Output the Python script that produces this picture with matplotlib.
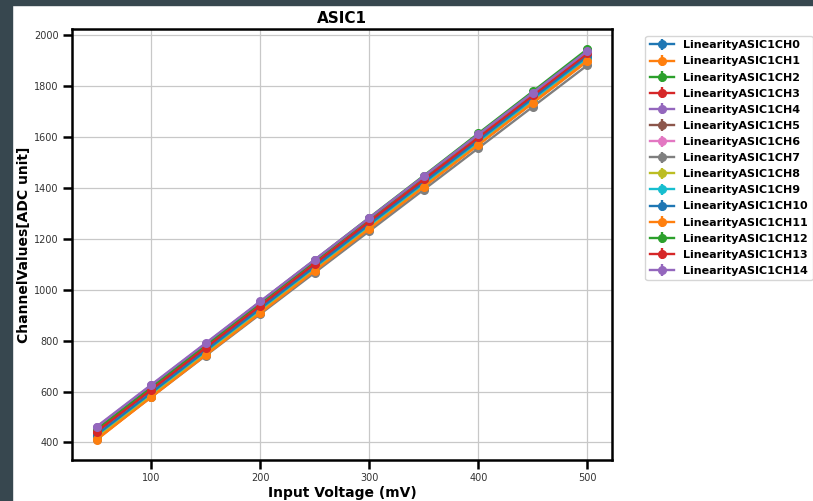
import matplotlib
matplotlib.use("Agg")
import matplotlib.pyplot as plt
from matplotlib.patches import Rectangle

# input voltages (mV)
voltages = [50, 100, 150, 200, 250, 300, 350, 400, 450, 500]

ch0 = [425, 591, 756, 922, 1087, 1253, 1418, 1584, 1749, 1915]
ch1 = [410, 580, 745, 908, 1072, 1240, 1405, 1570, 1733, 1897]
ch2 = [455, 621, 786, 952, 1117, 1283, 1448, 1614, 1779, 1945]
ch3 = [440, 605, 770, 935, 1100, 1265, 1430, 1595, 1760, 1925]
ch4 = [460, 624, 788, 952, 1116, 1280, 1443, 1607, 1771, 1935]
ch5 = [450, 614, 779, 943, 1108, 1272, 1436, 1601, 1765, 1930]
ch6 = [452, 616, 781, 945, 1110, 1274, 1438, 1603, 1767, 1932]
ch7 = [415, 578, 741, 904, 1067, 1230, 1393, 1556, 1719, 1882]
ch8 = [420, 585, 750, 915, 1080, 1245, 1410, 1575, 1740, 1905]
ch9 = [428, 593, 758, 923, 1088, 1253, 1417, 1582, 1747, 1912]
ch10 = [430, 595, 761, 926, 1091, 1257, 1422, 1587, 1753, 1918]
ch11 = [412, 577, 743, 908, 1074, 1239, 1404, 1569, 1735, 1900]
ch12 = [450, 616, 781, 947, 1112, 1278, 1443, 1609, 1774, 1940]
ch13 = [442, 607, 772, 937, 1102, 1268, 1433, 1598, 1763, 1928]
ch14 = [462, 626, 790, 954, 1118, 1282, 1446, 1610, 1774, 1938]

channels = [ch0, ch1, ch2, ch3, ch4, ch5, ch6, ch7, ch8, ch9,
            ch10, ch11, ch12, ch13, ch14]
labels = ["LinearityASIC1CH%d" % i for i in range(15)]
err = 2

fig = plt.figure(figsize=(8.13, 5.01), dpi=100)
fig.patch.set_facecolor("white")
# dark page border on left and top
fig.patches.append(Rectangle((0, 0), 12 / 813, 1, transform=fig.transFigure,
                             color="#37474f", zorder=-1))
fig.patches.append(Rectangle((0, 1 - 4.5 / 501), 1, 4.5 / 501,
                             transform=fig.transFigure, color="#37474f", zorder=-1))

ax = fig.add_axes([72 / 813, 1 - 460 / 501, 540 / 813, 431 / 501])

for vals, lab in zip(channels, labels):
    ax.errorbar(voltages, vals, yerr=err, marker="o", markersize=5.5,
                linewidth=1.7, label=lab)

ax.grid(True, color="#c8c8c8", linewidth=0.9)
ax.set_axisbelow(True)
for s in ax.spines.values():
    s.set_linewidth(1.8)
ax.tick_params(axis="both", length=6.5, width=1.8, labelsize=7, colors="black",
               labelcolor="#333333", pad=3)
ax.set_xticks([100, 200, 300, 400, 500])
ax.set_yticks([400, 600, 800, 1000, 1200, 1400, 1600, 1800, 2000])

ax.set_title("ASIC1", fontsize=11, fontweight="bold", pad=4)
ax.set_xlabel("Input Voltage (mV)", fontsize=10, fontweight="bold", labelpad=2)
ax.set_ylabel("ChannelValues[ADC unit]", fontsize=10, fontweight="bold", labelpad=2)

leg = ax.legend(loc="upper left", bbox_to_anchor=(1.062, 0.984),
                prop={"weight": "bold", "size": 8}, labelspacing=0.55,
                handlelength=2.2, borderaxespad=0)

fig.savefig("out.png", dpi=100)
